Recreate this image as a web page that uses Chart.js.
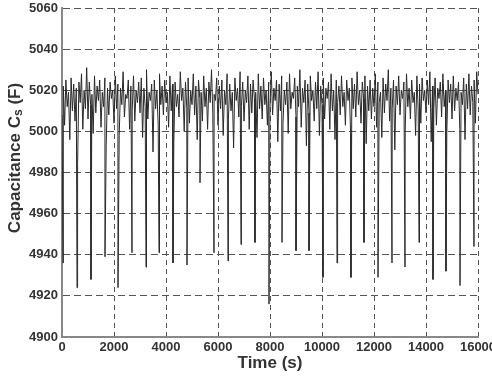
<!DOCTYPE html>
<html>
<head>
<meta charset="utf-8">
<script src="https://cdn.jsdelivr.net/npm/chart.js@4/dist/chart.umd.min.js"></script>
<style>
  html, body { margin: 0; padding: 0; background: #fff; }
  #wrap { width: 492px; height: 378px; }
</style>
</head>
<body>
<div id="wrap"><canvas id="capChart" width="492" height="378"></canvas></div>
<script>
const sampleStep = 50;
const baseValues = [
  5008, 5022, 5003, 5025, 5012, 5019, 4996, 5026, 5010, 5023, 5005, 5021, 4984, 5024, 5014, 5028, 5001, 5020, 5011, 5031,
  5006, 5024, 5013, 5018, 4999, 5027, 5009, 5022, 5015, 5025, 5002, 5019, 5012, 5026, 4993, 5021, 5008, 5024, 5016, 5020,
  5004, 5027, 5011, 5023, 4998, 5021, 5013, 5029, 5007, 5018, 5016, 5025, 5001, 5022, 5010, 5027, 5005, 5020, 5014, 5024,
  5009, 5026, 4997, 5021, 5012, 5030, 5006, 5019, 5015, 5023, 4990, 5025, 5011, 5020, 5003, 5028, 5013, 5022, 5008, 5025,
  5014, 5019, 5002, 5027, 5010, 5023, 4994, 5024, 5012, 5018, 5007, 5029, 5015, 5021, 5000, 5024, 5011, 5026, 5004, 5020,
  5013, 5028, 5008, 5022, 4996, 5025, 5016, 5019, 5005, 5027, 5012, 5021, 5001, 5024, 5014, 5030, 5009, 5018, 5015, 5026,
  5003, 5022, 5011, 5025, 4998, 5020, 5013, 5028, 5006, 5023, 5010, 5019, 4992, 5026, 5015, 5021, 5007, 5029, 5012, 5024,
  5005, 5020, 5014, 5027, 5001, 5023, 5009, 5025, 5016, 5019, 4997, 5028, 5011, 5022, 5006, 5026, 5013, 5020, 5003, 5024,
  5012, 5029, 5008, 5021, 5015, 5025, 4995, 5023, 5010, 5027, 5004, 5020, 5013, 5024, 4999, 5028, 5011, 5019, 5016, 5026,
  5007, 5022, 5012, 5030, 5002, 5021, 5014, 5025, 4993, 5023, 5009, 5027, 5015, 5020, 5005, 5024, 5011, 5029, 4998, 5022,
  5013, 5026, 5006, 5021, 5016, 5024, 5001, 5028, 5010, 5020, 4996, 5025, 5014, 5022, 5008, 5027, 5012, 5019, 5003, 5025,
  5015, 5021, 4999, 5026, 5011, 5023, 5007, 5029, 5013, 5020, 5004, 5024, 5016, 5027, 4994, 5022, 5010, 5025, 5006, 5021,
  5012, 5028, 5002, 5024, 5014, 5019, 4997, 5026, 5009, 5023, 5015, 5030, 5005, 5021, 5011, 5025, 4991, 5022, 5013, 5027,
  5008, 5020, 5016, 5024, 5000, 5028, 5012, 5021, 5006, 5025, 5014, 5019, 4998, 5027, 5010, 5023, 5004, 5026, 5015, 5020,
  5009, 5025, 5013, 5029, 4995, 5022, 5011, 5026, 5003, 5021, 5016, 5024, 5007, 5028, 5012, 5020, 4999, 5025, 5014, 5023,
  5006, 5027, 5010, 5021, 5015, 5024, 5001, 5019, 5013, 5026, 4996, 5023, 5011, 5028, 5008, 5022, 5014, 5025, 5004, 5029,
  5018
];

// the periodic downward spikes
const spikeTimes = [
  40, 577, 1115, 1654, 2154, 2692, 3231, 3731, 4269, 4808, 5308, 5846, 6385, 6885, 7423, 7962,
  8462, 9000, 9500, 10038, 10577, 11115, 11615, 12154, 12692, 13192, 13731, 14269, 14769, 15308, 15846
];
const spikeValues = [
  4936, 4924, 4928, 4939, 4924, 4941, 4934, 4941, 4936, 4935, 4975, 4941, 4937, 4945, 4946, 4916,
  4946, 4942, 4942, 4929, 4936, 4929, 4946, 4929, 4936, 4934, 4946, 4928, 4932, 4925, 4944
];

const xTicks = [0, 2000, 4000, 6000, 8000, 10000, 12000, 14000, 16000];
const yTicks = [4900, 4920, 4940, 4960, 4980, 5000, 5020, 5040, 5060];

// merge base samples and spikes into one time-ordered series
function buildPoints() {
  const pts = baseValues.map((v, i) => ({ x: i * sampleStep, y: v }));
  spikeTimes.forEach((t, i) => pts.push({ x: t, y: spikeValues[i] }));
  pts.sort((a, b) => a.x - b.x);
  return pts;
}

const tickFont = { family: '"Liberation Sans", Arial, sans-serif', size: 13, weight: 'bold' };

// y axis title with a subscript s
const yTitlePlugin = {
  id: 'yTitle',
  afterDraw(chart) {
    const ctx = chart.ctx;
    const main = 'bold 17px "Liberation Sans", Arial, sans-serif';
    const sub = 'bold 12px "Liberation Sans", Arial, sans-serif';
    ctx.save();
    ctx.translate(15, 158);
    ctx.rotate(-Math.PI / 2);
    ctx.fillStyle = '#333';
    ctx.textBaseline = 'middle';
    ctx.font = main;
    const w1 = ctx.measureText('Capacitance C').width;
    const w3 = ctx.measureText(' (F)').width;
    ctx.font = sub;
    const w2 = ctx.measureText('s').width;
    const x0 = -(w1 + w2 + w3) / 2;
    ctx.font = main;
    ctx.fillText('Capacitance C', x0, 0);
    ctx.font = sub;
    ctx.fillText('s', x0 + w1, 4);
    ctx.font = main;
    ctx.fillText(' (F)', x0 + w1 + w2, 0);
    ctx.restore();
  }
};

const ctx = document.getElementById('capChart').getContext('2d');
new Chart(ctx, {
  type: 'line',
  data: {
    datasets: [{
      data: buildPoints(),
      borderColor: '#2a2a2a',
      borderWidth: 1,
      pointRadius: 0,
      tension: 0,
      fill: false
    }]
  },
  options: {
    responsive: false,
    animation: false,
    events: [],
    layout: { padding: { left: 0, right: 14, top: 8, bottom: 0 } },
    plugins: { legend: { display: false }, tooltip: { enabled: false } },
    scales: {
      x: {
        type: 'linear',
        min: 0,
        max: 16000,
        afterBuildTicks: (scale) => { scale.ticks = xTicks.map(v => ({ value: v })); },
        afterFit: (scale) => { scale.height = 41; scale.paddingLeft = 0; scale.paddingRight = 0; },
        ticks: {
          font: tickFont,
          color: '#333',
          padding: 3,
          maxRotation: 0,
          autoSkip: false,
          callback: (v) => String(v)
        },
        grid: { color: '#555', lineWidth: 1, drawTicks: false },
        border: { display: true, color: '#888', width: 2, dash: [5, 4] },
        title: {
          display: true,
          text: 'Time (s)',
          color: '#333',
          font: { family: '"Liberation Sans", Arial, sans-serif', size: 17, weight: 'bold' },
          padding: { top: 0, bottom: 4 }
        }
      },
      y: {
        min: 4900,
        max: 5060,
        afterBuildTicks: (scale) => { scale.ticks = yTicks.map(v => ({ value: v })); },
        afterFit: (scale) => { scale.width = 62; scale.paddingTop = 0; scale.paddingBottom = 0; },
        ticks: {
          font: tickFont,
          color: '#333',
          padding: 4,
          autoSkip: false,
          callback: (v) => String(v)
        },
        grid: { color: '#555', lineWidth: 1, drawTicks: false },
        border: { display: true, color: '#888', width: 2, dash: [7, 4] }
      }
    }
  },
  plugins: [yTitlePlugin]
});
</script>
</body>
</html>
